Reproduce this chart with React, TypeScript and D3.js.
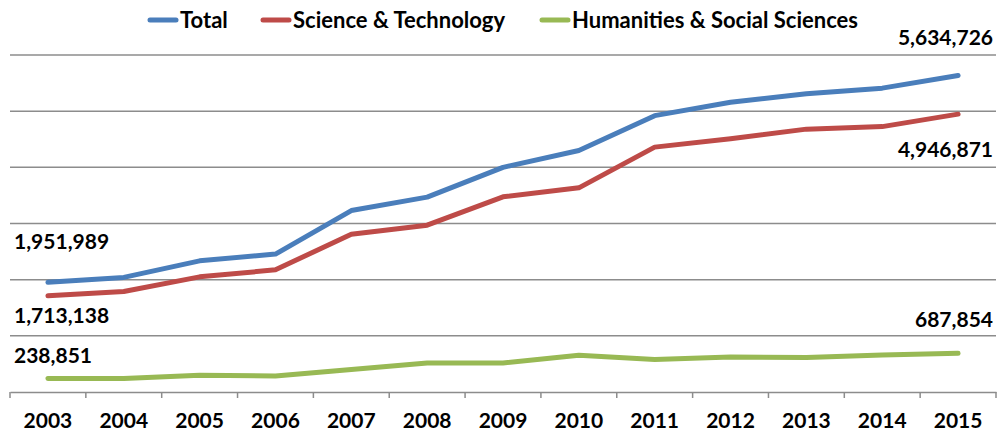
import React, { useEffect, useRef } from "react";
import * as d3 from "d3";

const years = ["2003", "2004", "2005", "2006", "2007", "2008", "2009", "2010", "2011", "2012", "2013", "2014", "2015"];
const total = [1951989, 2040000, 2335000, 2455000, 3230000, 3470000, 4000000, 4300000, 4920000, 5160000, 5310000, 5410000, 5634726];
const sciTech = [1713138, 1790000, 2050000, 2175000, 2810000, 2970000, 3475000, 3635000, 4360000, 4510000, 4680000, 4725000, 4946871];
const humanities = [238851, 240000, 298000, 285000, 400000, 517000, 517000, 655000, 578000, 623000, 613000, 660000, 687854];
const yTicks = [1000000, 2000000, 3000000, 4000000, 5000000, 6000000];

const series = [
  { name: "Total", values: total, color: "#4a7ebb" },
  { name: "Science & Technology", values: sciTech, color: "#be4b48" },
  { name: "Humanities & Social Sciences", values: humanities, color: "#98b954" },
];

const W = 999;
const H = 432;
const font = "Lato, 'Open Sans', sans-serif";

export default function App() {
  const svgRef = useRef<SVGSVGElement>(null);

  useEffect(() => {
    const svg = d3.select(svgRef.current);
    svg.selectAll("*").remove();

    const x = d3.scaleBand().domain(years).range([10, 996]);
    const y = d3.scaleLinear().domain([0, 6000000]).range([392, 55]);
    const cx = (d: string) => (x(d) as number) + x.bandwidth() / 2;

    // gridlines
    svg
      .append("g")
      .selectAll("line")
      .data(yTicks)
      .enter()
      .append("line")
      .attr("x1", 10)
      .attr("x2", 996)
      .attr("y1", (d) => y(d))
      .attr("y2", (d) => y(d))
      .attr("stroke", "#8c8c8c")
      .attr("stroke-width", 1.5);

    // x axis
    const xAxis = svg
      .append("g")
      .attr("transform", `translate(0,${y(0)})`)
      .call(d3.axisBottom(x).tickSize(0).tickPadding(0).tickFormat(() => ""));
    xAxis.select(".domain").attr("stroke", "#8c8c8c").attr("stroke-width", 1.5);
    xAxis.selectAll(".tick").remove();

    const bounds = years.map((d) => x(d) as number).concat([x.range()[1]]);
    svg
      .append("g")
      .selectAll("line")
      .data(bounds)
      .enter()
      .append("line")
      .attr("x1", (d) => d)
      .attr("x2", (d) => d)
      .attr("y1", y(0))
      .attr("y2", y(0) + 6)
      .attr("stroke", "#8c8c8c")
      .attr("stroke-width", 1.5);

    svg
      .append("g")
      .selectAll("text")
      .data(years)
      .enter()
      .append("text")
      .attr("x", (d) => cx(d))
      .attr("y", 428)
      .attr("text-anchor", "middle")
      .style("font-family", font)
      .style("font-weight", "bold")
      .style("font-size", "21px")
      .text((d) => d);

    // lines
    const line = d3
      .line<number>()
      .x((d, i) => cx(years[i]))
      .y((d) => y(d));

    series.forEach((s) => {
      svg
        .append("path")
        .datum(s.values)
        .attr("d", line)
        .attr("fill", "none")
        .attr("stroke", s.color)
        .attr("stroke-width", 5)
        .attr("stroke-linejoin", "round")
        .attr("stroke-linecap", "round");
    });

    // value labels
    const fmt = d3.format(",");
    const labels = [
      { v: total[0], x: 14, y: 249, anchor: "start" },
      { v: sciTech[0], x: 14, y: 323, anchor: "start" },
      { v: humanities[0], x: 14, y: 363, anchor: "start" },
      { v: total[total.length - 1], x: 993, y: 45, anchor: "end" },
      { v: sciTech[sciTech.length - 1], x: 993, y: 157, anchor: "end" },
      { v: humanities[humanities.length - 1], x: 993, y: 327, anchor: "end" },
    ];
    svg
      .append("g")
      .selectAll("text")
      .data(labels)
      .enter()
      .append("text")
      .attr("x", (d) => d.x)
      .attr("y", (d) => d.y)
      .attr("text-anchor", (d) => d.anchor)
      .style("font-family", font)
      .style("font-weight", "bold")
      .style("font-size", "21px")
      .text((d) => fmt(d.v));

    // legend
    const legendX = [148, 261, 540];
    const legend = svg.append("g");
    series.forEach((s, i) => {
      legend
        .append("line")
        .attr("x1", legendX[i] + 2)
        .attr("x2", legendX[i] + 28)
        .attr("y1", 20)
        .attr("y2", 20)
        .attr("stroke", s.color)
        .attr("stroke-width", 5)
        .attr("stroke-linecap", "round");
      legend
        .append("text")
        .attr("x", legendX[i] + 32)
        .attr("y", 28)
        .style("font-family", font)
        .style("font-weight", "bold")
        .style("font-size", "22px")
        .text(s.name);
    });
  }, []);

  return (
    <svg
      ref={svgRef}
      width={W}
      height={H}
      style={{ position: "absolute", left: 0, top: 0, background: "#fff" }}
    />
  );
}
